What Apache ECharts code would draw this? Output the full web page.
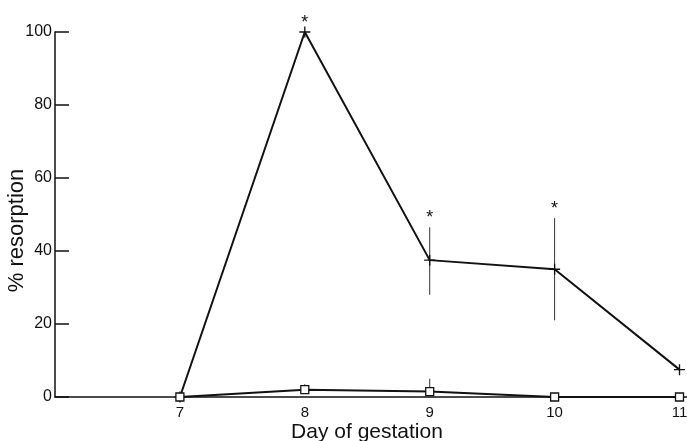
<!DOCTYPE html>
<html>
<head>
<meta charset="utf-8">
<script src="https://cdn.jsdelivr.net/npm/echarts@6/dist/echarts.min.js"></script>
<style>
html,body{margin:0;padding:0;background:#fff;}
#chart{width:687px;height:441px;}
</style>
</head>
<body>
<div id="chart"></div>
<script>
// days of gestation and % resorption
var days = [7, 8, 9, 10, 11];
var treated = [0, 100, 37.5, 35, 7.5];
var treatedLow = [null, null, 28, 21, null];
var treatedHigh = [null, null, 46.5, 49, null];
var significant = [false, true, true, true, false];
var control = [0, 2, 1.5, 0, 0];
var controlHigh = [null, 3.5, 5, null, null];

var ink = '#111';
var font = '"Liberation Sans", Arial, sans-serif';

function pairs(ys) {
    return days.map(function (d, i) { return [d, ys[i]]; });
}

// error bars: [x, low, high]
var errData = [];
days.forEach(function (d, i) {
    if (treatedHigh[i] != null) errData.push([d, treatedLow[i], treatedHigh[i]]);
    if (controlHigh[i] != null) errData.push([d, control[i], controlHigh[i]]);
});
// asterisk above the bar (or the point)
var starData = [];
days.forEach(function (d, i) {
    if (significant[i]) starData.push([d, treatedHigh[i] != null ? treatedHigh[i] : treated[i]]);
});

var crossPath = 'path://M0,4.4h10v1.2h-10z M4.4,0h1.2v10h-1.2z';

var myChart = echarts.init(document.getElementById('chart'));
var option = {
    animation: false,
    grid: {left: 55, right: 0, top: 32, bottom: 44, outerBoundsMode: 'none', containLabel: false},
    xAxis: {
        type: 'value',
        min: 6,
        max: 11.06,
        interval: 1,
        name: 'Day of gestation',
        nameLocation: 'middle',
        nameGap: 25,
        nameMoveOverlap: false,
        nameTextStyle: {fontFamily: font, fontSize: 21, color: ink, padding: [0, 8, 0, 0]},
        axisLine: {lineStyle: {color: ink, width: 1.5}},
        axisTick: {show: false},
        splitLine: {show: false},
        axisLabel: {
            fontFamily: font, fontSize: 15, color: ink, margin: 8,
            formatter: function (v) { return (v >= 7 && v === Math.round(v)) ? v : ''; }
        }
    },
    yAxis: {
        type: 'value',
        min: 0,
        max: 100,
        interval: 20,
        name: '% resorption',
        nameLocation: 'middle',
        nameGap: 27,
        nameMoveOverlap: false,
        nameTextStyle: {fontFamily: font, fontSize: 22, color: ink, padding: [0, 32, 0, 0]},
        axisLine: {show: true, lineStyle: {color: ink, width: 1.5}},
        axisTick: {show: true, inside: true, length: 14, lineStyle: {color: ink, width: 1.5}},
        splitLine: {show: false},
        axisLabel: {fontFamily: font, fontSize: 16, color: ink, margin: 3}
    },
    series: [
        {
            type: 'custom',
            data: errData,
            renderItem: function (params, api) {
                var top = api.coord([api.value(0), api.value(2)]);
                var bot = api.coord([api.value(0), api.value(1)]);
                return {
                    type: 'line',
                    shape: {x1: top[0], y1: top[1], x2: bot[0], y2: bot[1]},
                    style: {stroke: '#333', lineWidth: 1}
                };
            },
            z: 1
        },
        {
            type: 'line',
            data: pairs(control),
            symbol: 'rect',
            symbolSize: 8,
            itemStyle: {color: '#fff', borderColor: ink, borderWidth: 1.3},
            lineStyle: {color: ink, width: 2},
            z: 3
        },
        {
            type: 'line',
            data: pairs(treated),
            symbol: crossPath,
            symbolSize: 11,
            itemStyle: {color: ink},
            lineStyle: {color: ink, width: 2},
            z: 2
        },
        {
            type: 'custom',
            data: starData,
            renderItem: function (params, api) {
                var p = api.coord([api.value(0), api.value(1)]);
                return {
                    type: 'text',
                    x: p[0],
                    y: p[1] - 9,
                    style: {text: '*', fill: ink, font: '18px ' + font, align: 'center', verticalAlign: 'middle'}
                };
            },
            z: 4
        }
    ]
};
myChart.setOption(option);
</script>
</body>
</html>
